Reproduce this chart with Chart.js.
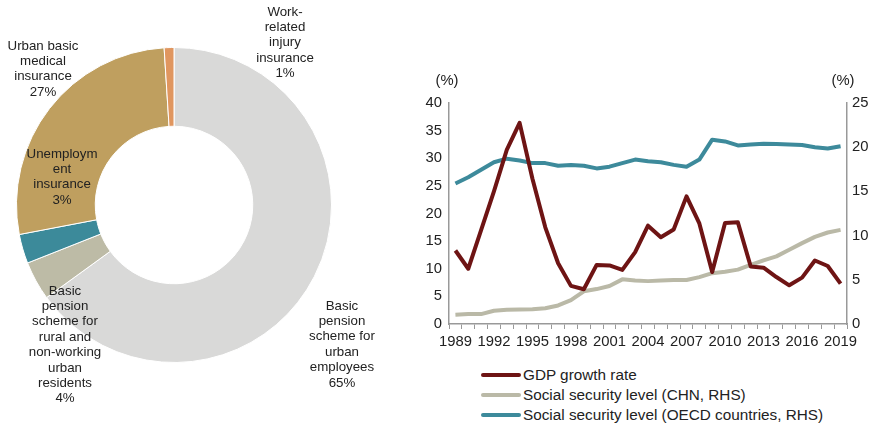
<!DOCTYPE html>
<html>
<head>
<meta charset="utf-8">
<script src="https://cdn.jsdelivr.net/npm/chart.js@4"></script>
<style>
  body { margin: 0; background: #fff; }
  #wrap { position: relative; width: 870px; height: 425px; overflow: hidden; font-family: "Liberation Sans", Arial, sans-serif; }
  #pie { position: absolute; left: 0; top: 0; }
  #line { position: absolute; left: 400px; top: 60px; }
  #legend { position: absolute; left: 481px; top: 365px; font-size: 15.3px; color: #222; }
  .item { height: 20px; line-height: 20px; white-space: nowrap; }
  .sw { display: inline-block; width: 40px; height: 4px; border-radius: 2px; vertical-align: middle; margin-right: 2px; position: relative; top: -1px; }
</style>
</head>
<body>
<div id="wrap">
  <canvas id="pie" width="400" height="425"></canvas>
  <canvas id="line" width="470" height="305"></canvas>
  <div id="legend"></div>
</div>
<script>
// doughnut: share of social security spending
var pieLabels = ['Basic pension scheme for urban employees', 'Basic pension scheme for rural and non-working urban residents',
  'Unemployment insurance', 'Urban basic medical insurance', 'Work-related injury insurance'];
var pieValues = [65, 4, 3, 27, 1];
var pieColors = ['#d9d9d8', '#bdbba6', '#3c8a9a', '#bf9f5f', '#e0965f'];
// label text split in lines, and where it sits relative to the ring centre
var pieText = [
  ['Basic', 'pension', 'scheme for', 'urban', 'employees', '65%'],
  ['Basic', 'pension', 'scheme for', 'rural and', 'non-working', 'urban', 'residents', '4%'],
  ['Unemploym', 'ent', 'insurance', '3%'],
  ['Urban basic', 'medical', 'insurance', '27%'],
  ['Work-', 'related', 'injury', 'insurance', '1%']
];
var pieTextPos = [[168, 101], [-109, 86], [-112, -51], [-131, -159], [111, -193]];

// line chart
var years = [];
for (var y = 1989; y <= 2019; y++) years.push(String(y));
var gdpGrowth = [13.3, 10.0, 17.0, 24.0, 31.5, 36.4, 26.3, 17.5, 11.0, 6.9, 6.3, 10.7, 10.6, 9.8, 13.0, 17.8, 15.7, 17.1, 23.1, 18.2, 9.4,
  18.3, 18.4, 10.4, 10.2, 8.5, 7.0, 8.4, 11.5, 10.5, 7.3];
var ssChn = [1.05, 1.12, 1.12, 1.5, 1.62, 1.65, 1.68, 1.78, 2.1, 2.7, 3.7, 3.95, 4.3, 5.05, 4.92, 4.85, 4.92, 4.97, 4.97, 5.3, 5.75,
  5.9, 6.15, 6.7, 7.2, 7.65, 8.4, 9.15, 9.85, 10.35, 10.65];
var ssOecd = [15.9, 16.6, 17.45, 18.3, 18.7, 18.5, 18.2, 18.2, 17.9, 18.0, 17.9, 17.6, 17.8, 18.2, 18.6, 18.4, 18.3, 18.0, 17.8, 18.6, 20.85,
  20.65, 20.2, 20.3, 20.4, 20.35, 20.3, 20.25, 20.0, 19.85, 20.1];
var seriesNames = ['GDP growth rate', 'Social security level (CHN, RHS)', 'Social security level (OECD countries, RHS)'];
var seriesColors = ['#6e1414', '#bab9a7', '#3d8a9b'];

Chart.defaults.font.family = '"Liberation Sans", Arial, sans-serif';
Chart.defaults.color = '#222';
Chart.defaults.animation = false;

var pieTextPlugin = {
  id: 'pieText',
  afterDraw: function(chart) {
    var ctx = chart.ctx;
    var arc = chart.getDatasetMeta(0).data[0];
    ctx.save();
    ctx.font = '13.3px "Liberation Sans", Arial, sans-serif';
    ctx.fillStyle = '#222';
    ctx.textAlign = 'center';
    ctx.textBaseline = 'middle';
    pieText.forEach(function(lines, i) {
      lines.forEach(function(t, j) {
        ctx.fillText(t, arc.x + pieTextPos[i][0], arc.y + pieTextPos[i][1] + j * 15.4);
      });
    });
    ctx.restore();
  }
};

new Chart(document.getElementById('pie'), {
  type: 'doughnut',
  data: {
    labels: pieLabels,
    datasets: [{ data: pieValues, backgroundColor: pieColors, borderColor: '#fff', borderWidth: 1 }]
  },
  options: {
    responsive: false,
    cutout: '50%',
    layout: { padding: { left: 16, top: 47, right: 68, bottom: 62 } },
    plugins: { legend: { display: false }, tooltip: { enabled: false } }
  },
  plugins: [pieTextPlugin]
});

var pctPlugin = {
  id: 'pct',
  afterDraw: function(chart) {
    var ctx = chart.ctx;
    ctx.save();
    ctx.font = '14.8px "Liberation Sans", Arial, sans-serif';
    ctx.fillStyle = '#222';
    ctx.textAlign = 'center';
    ctx.textBaseline = 'middle';
    ctx.fillText('(%)', chart.scales.y.right - 2, chart.chartArea.top - 22);
    ctx.fillText('(%)', chart.scales.y2.left - 4, chart.chartArea.top - 22);
    ctx.restore();
  }
};

function mk(data, i, axis) {
  return { label: seriesNames[i], data: data, yAxisID: axis, borderColor: seriesColors[i], backgroundColor: seriesColors[i],
    borderWidth: 4, pointRadius: 0, tension: 0, borderJoinStyle: 'round' };
}

new Chart(document.getElementById('line'), {
  type: 'line',
  data: {
    labels: years,
    datasets: [mk(gdpGrowth, 0, 'y'), mk(ssChn, 1, 'y2'), mk(ssOecd, 2, 'y2')]
  },
  options: {
    responsive: false,
    layout: { padding: { top: 43, left: 0, right: 0, bottom: 0 } },
    plugins: { legend: { display: false }, tooltip: { enabled: false } },
    scales: {
      x: {
        offset: true,
        grid: { offset: true, drawOnChartArea: false, tickLength: 5, color: '#999' },
        border: { color: '#999', width: 1.5 },
        ticks: { autoSkip: false, maxRotation: 0, padding: 4, font: { size: 14.8 },
          callback: function(v, i) { return i % 3 === 0 ? this.getLabelForValue(v) : ''; } },
        afterFit: function(s) { s.height = 41; }
      },
      y: {
        position: 'left', min: 0, max: 40,
        grid: { drawOnChartArea: false, drawTicks: false },
        border: { color: '#999', width: 1.5 },
        ticks: { stepSize: 5, padding: 7, font: { size: 14.8 } },
        afterFit: function(s) { s.width = 49; }
      },
      y2: {
        position: 'right', min: 0, max: 25,
        grid: { drawOnChartArea: false, drawTicks: false },
        border: { color: '#999', width: 1.5 },
        ticks: { stepSize: 5, padding: 5, font: { size: 14.8 } },
        afterFit: function(s) { s.width = 23; }
      }
    }
  },
  plugins: [pctPlugin]
});

var lg = document.getElementById('legend');
seriesNames.forEach(function(n, i) {
  var d = document.createElement('div');
  d.className = 'item';
  d.innerHTML = '<span class="sw" style="background:' + seriesColors[i] + '"></span>' + n;
  lg.appendChild(d);
});
</script>
</body>
</html>
